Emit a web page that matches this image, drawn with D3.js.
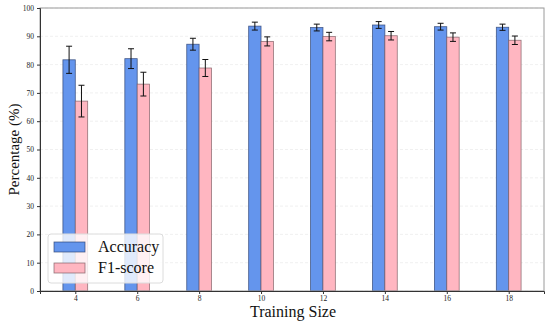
<!DOCTYPE html>
<html>
<head>
<meta charset="utf-8">
<script src="https://cdn.jsdelivr.net/npm/d3@7"></script>
<style>
    body { margin: 0; background: #fff; }
    svg { display: block; font-family: "Liberation Serif", "Times New Roman", serif; }
</style>
</head>
<body>
<svg id="chart" width="550" height="324"></svg>
<script>

var sizes = [4, 6, 8, 10, 12, 14, 16, 18];

var accuracy = [81.7, 82.1, 87.2, 93.6, 93.1, 94.0, 93.4, 93.2],
    accuracy_err = [4.8, 3.5, 2.1, 1.4, 1.2, 1.2, 1.2, 1.1];

var f1 = [67.1, 73.1, 78.8, 88.2, 89.9, 90.2, 89.7, 88.6],
    f1_err = [5.6, 4.2, 3.0, 1.6, 1.5, 1.5, 1.5, 1.5];

var y_ticks = d3.range(0, 101, 10);

var series = [
    { label: 'Accuracy', values: accuracy, err: accuracy_err, offset: -0.2, fill: '#6495ed', stroke: '#2a3f6e' },
    { label: 'F1-score', values: f1, err: f1_err, offset: 0.2, fill: '#ffb6c1', stroke: '#7a5a60' }
];

var bar_w = 0.4;

var margin = { top: 8, right: 6, bottom: 33, left: 40 },
    width = 550 - margin.left - margin.right,
    height = 324 - margin.top - margin.bottom;

var svg = d3.select('#chart');

var g = svg.append('g')
    .attr('transform', 'translate(' + margin.left + ',' + margin.top + ')');

// matplotlib style auto limits: data extent plus 5% padding
var lo = d3.min(sizes) - bar_w,
    hi = d3.max(sizes) + bar_w,
    pad = (hi - lo) * 0.05;

var x = d3.scaleLinear()
    .domain([lo - pad, hi + pad])
    .range([0, width]);

var y = d3.scaleLinear()
    .domain([0, 100])
    .range([height, 0]);

// grid
g.append('g')
    .selectAll('line')
    .data(y_ticks)
    .enter()
    .append('line')
    .attr('x1', 0)
    .attr('x2', width)
    .attr('y1', function (d) { return y(d); })
    .attr('y2', function (d) { return y(d); })
    .attr('stroke', '#ececec')
    .attr('stroke-width', 0.8)
    .attr('stroke-dasharray', '3,2');

// bars
series.forEach(function (s) {
    var sg = g.append('g').attr('class', 'series');

    sg.selectAll('rect')
        .data(sizes)
        .enter()
        .append('rect')
        .attr('x', function (d) { return x(d + s.offset - bar_w / 2); })
        .attr('width', x(bar_w) - x(0))
        .attr('y', function (d, i) { return y(s.values[i]); })
        .attr('height', function (d, i) { return y(0) - y(s.values[i]); })
        .attr('fill', s.fill)
        .attr('stroke', s.stroke)
        .attr('stroke-opacity', 0.8)
        .attr('stroke-width', 0.8);

    var eb = sg.selectAll('g.err')
        .data(sizes)
        .enter()
        .append('g')
        .attr('class', 'err')
        .attr('stroke', '#111')
        .attr('stroke-width', 1);

    eb.append('line')
        .attr('x1', function (d) { return x(d + s.offset); })
        .attr('x2', function (d) { return x(d + s.offset); })
        .attr('y1', function (d, i) { return y(s.values[i] + s.err[i]); })
        .attr('y2', function (d, i) { return y(s.values[i] - s.err[i]); });

    [1, -1].forEach(function (sign) {
        eb.append('line')
            .attr('x1', function (d) { return x(d + s.offset) - 3; })
            .attr('x2', function (d) { return x(d + s.offset) + 3; })
            .attr('y1', function (d, i) { return y(s.values[i] + sign * s.err[i]); })
            .attr('y2', function (d, i) { return y(s.values[i] + sign * s.err[i]); });
    });
});

// frame
g.append('rect')
    .attr('width', width)
    .attr('height', height)
    .attr('fill', 'none')
    .attr('stroke', '#9a9a9a')
    .attr('stroke-width', 1);

// axes
var x_axis = g.append('g')
    .attr('transform', 'translate(0,' + height + ')')
    .call(d3.axisBottom(x).tickValues(sizes).tickSize(3).tickPadding(2));

var y_axis = g.append('g')
    .call(d3.axisLeft(y).tickValues(y_ticks).tickSize(3).tickPadding(3));

[x_axis, y_axis].forEach(function (a) {
    a.select('.domain').attr('stroke', '#333');
    a.selectAll('.tick line').attr('stroke', '#333');
    a.selectAll('.tick text')
        .attr('fill', '#222')
        .style('font-family', '"Liberation Serif", serif')
        .style('font-size', '7.5px');
});

// axis titles
svg.append('text')
    .attr('x', margin.left + width / 2 + 1)
    .attr('y', 317)
    .attr('text-anchor', 'middle')
    .style('font-size', '16px')
    .attr('fill', '#111')
    .text('Training Size');

svg.append('text')
    .attr('transform', 'translate(19,' + (margin.top + height / 2) + ') rotate(-90)')
    .attr('text-anchor', 'middle')
    .style('font-size', '15px')
    .attr('fill', '#111')
    .text('Percentage (%)');

// legend
var legend = svg.append('g')
    .attr('transform', 'translate(48,234)');

legend.append('rect')
    .attr('width', 115)
    .attr('height', 49)
    .attr('rx', 3)
    .attr('fill', '#fff')
    .attr('fill-opacity', 0.8)
    .attr('stroke', '#dcdcdc')
    .attr('stroke-width', 1);

var items = legend.selectAll('g.item')
    .data(series)
    .enter()
    .append('g')
    .attr('class', 'item')
    .attr('transform', function (d, i) { return 'translate(6,' + (8 + i * 21) + ')'; });

items.append('rect')
    .attr('width', 31)
    .attr('height', 10)
    .attr('fill', function (d) { return d.fill; })
    .attr('stroke', function (d) { return d.stroke; })
    .attr('stroke-opacity', 0.8)
    .attr('stroke-width', 0.8);

items.append('text')
    .attr('x', 44)
    .attr('y', 10)
    .style('font-size', '16px')
    .attr('fill', '#111')
    .text(function (d) { return d.label; });

</script>
</body>
</html>
